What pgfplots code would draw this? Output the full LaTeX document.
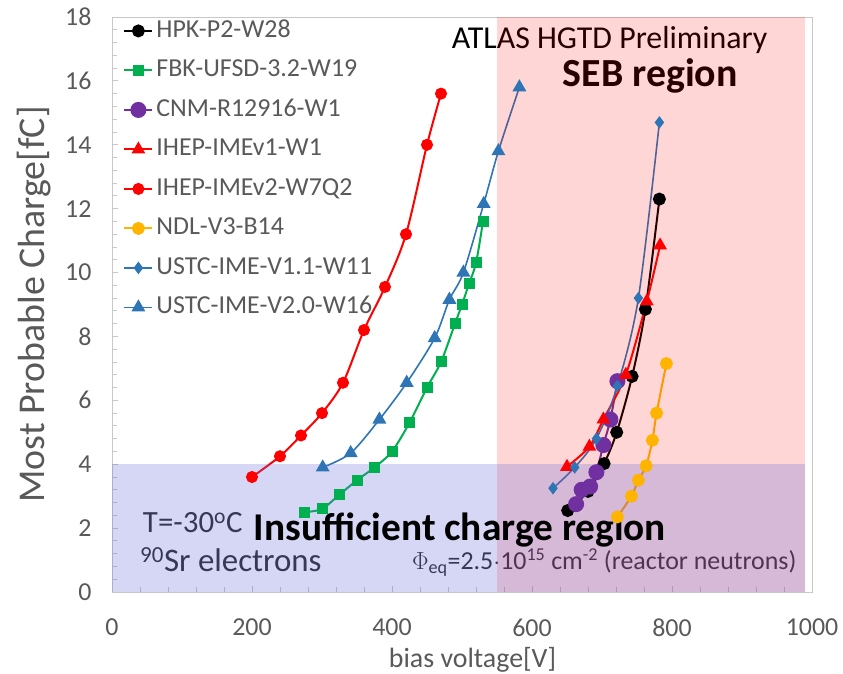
\documentclass[border=0pt]{standalone}
\usepackage{pgfplots}
\pgfplotsset{compat=1.18}
\usepackage{fontspec}
\setmainfont{Carlito}

\definecolor{txtgray}{RGB}{89,89,89}
\definecolor{axgray}{RGB}{200,200,200}
\definecolor{cGreen}{RGB}{0,176,80}
\definecolor{cPurple}{RGB}{112,48,160}
\definecolor{cRed}{RGB}{255,0,0}
\definecolor{cOrange}{RGB}{255,180,0}
\definecolor{cBlue}{RGB}{46,117,182}
\definecolor{cLav}{RGB}{103,103,218}

\begin{document}
\begin{tikzpicture}
\useasboundingbox (-112bp,-82bp) rectangle (731bp,592bp);
\begin{axis}[
  at={(0,0)}, anchor=south west,
  scale only axis, width=700bp, height=575bp,
  xmin=0, xmax=1000, ymin=0, ymax=18,
  xtick={0,200,...,1000}, ytick={0,2,...,18},
  minor x tick num=4, minor y tick num=4,
  xtick pos=bottom, ytick pos=left,
  tick align=inside,
  major tick length=6bp, minor tick length=5bp,
  every tick/.style={axgray, line width=0.8bp},
  axis line style={axgray, line width=0.8bp},
  /pgf/number format/assume math mode=true,
  /pgf/number format/1000 sep={},
  ticklabel style={font=\fontsize{26}{30}\selectfont, text=txtgray},
  xticklabel style={yshift=-23bp},
  yticklabel style={xshift=-17bp},
  every axis x label/.style={at={(axis description cs:0.515,-0.118)}, anchor=center},
  every axis y label/.style={at={(axis description cs:-0.112,0.5)}, rotate=90, anchor=center},
  xlabel={bias voltage[V]},
  ylabel={Most Probable Charge[fC]},
  xlabel style={font=\fontsize{28}{32}\selectfont, text=txtgray},
  ylabel style={font=\fontsize{38}{42}\selectfont, text=txtgray},
  legend cell align=left,
  legend image code/.code={
    \draw[mark repeat=2, mark phase=2] plot coordinates {(0bp,0bp) (14bp,0bp) (28bp,0bp)};},
  legend style={draw=none, fill=none, at={(axis cs:16,17.93)}, anchor=north west,
    font=\fontsize{26}{29}\selectfont, text=txtgray, row sep=16.5bp, column sep=3bp,
    inner sep=0pt, nodes={inner sep=0pt, text height=18bp, text depth=5bp}},
  every axis plot/.append style={line width=2bp},
]
% HPK
\addplot[black, smooth, mark=*, mark size=5.5bp] coordinates {
 (651,2.55) (680,3.15) (703,4.02) (721,5.0) (743,6.75) (762,8.85) (782,12.3)};
\addlegendentry{HPK-P2-W28}
% FBK
\addplot[cGreen, smooth, mark=square*, mark size=4.5bp] coordinates {
 (275,2.5) (300,2.6) (325,3.05) (350,3.5) (375,3.9) (400,4.4) (425,5.3) (450,6.4)
 (470,7.2) (490,8.4) (500,9.0) (510,9.65) (520,10.3) (530,11.6)};
\addlegendentry{FBK-UFSD-3.2-W19}
% CNM
\addplot[cPurple, smooth, mark=*, mark size=7bp] coordinates {
 (663,2.75) (671,3.2) (683,3.3) (692,3.75) (702,4.6) (712,5.4) (722,6.6)};
\addlegendentry{CNM-R12916-W1}
% IHEP v1
\addplot[cRed, smooth, mark=triangle*, mark size=6bp] coordinates {
 (650,3.92) (682,4.55) (702,5.4) (734,6.8) (764,9.1) (783,10.85)};
\addlegendentry{IHEP-IMEv1-W1}
% IHEP v2
\addplot[cRed, smooth, mark=*, mark size=5bp] coordinates {
 (200,3.6) (240,4.25) (270,4.9) (300,5.6) (330,6.55) (360,8.2) (390,9.55)
 (420,11.2) (450,14.0) (470,15.6)};
\addlegendentry{IHEP-IMEv2-W7Q2}
% NDL
\addplot[cOrange, smooth, mark=*, mark size=5.5bp] coordinates {
 (722,2.35) (742,3.0) (752,3.5) (763,3.95) (772,4.75) (778,5.6) (792,7.15)};
\addlegendentry{NDL-V3-B14}
% USTC V1.1
\addplot[cBlue, smooth, line width=1.6bp, mark=diamond*, mark size=5bp] coordinates {
 (630,3.25) (661,3.9) (692,4.8) (722,6.45) (752,9.2) (782,14.7)};
\addlegendentry{USTC-IME-V1.1-W11}
% USTC V2.0
\addplot[cBlue, smooth, line width=1.6bp, mark=triangle*, mark size=6.5bp] coordinates {
 (301,3.9) (341,4.35) (382,5.4) (421,6.55) (461,7.95) (482,9.15) (502,10.0)
 (531,12.15) (552,13.8) (582,15.8)};
\addlegendentry{USTC-IME-V2.0-W16}

% annotations
\node[anchor=center, font=\fontsize{32}{36}\selectfont] at (axis cs:711,17.28) {ATLAS HGTD Preliminary};
\node[anchor=center, font=\bfseries\fontsize{40}{44}\selectfont] at (axis cs:769,16.15) {SEB region};
\node[anchor=west, inner sep=0pt, font=\fontsize{31}{35}\selectfont, text=black!85] at (axis cs:44,2.16) {T=-30\textsuperscript{o}C};
\node[anchor=west, inner sep=0pt, font=\fontsize{33}{37}\selectfont, text=black!85] at (axis cs:40,1.0) {\textsuperscript{90}Sr electrons};
\node[anchor=east, inner sep=0pt, font=\fontsize{26}{30}\selectfont, text=black!85] at (axis cs:978,0.92) {$\Phi_{\mathrm{eq}}$=2.5$\cdot$10\textsuperscript{15} cm\textsuperscript{-2} (reactor neutrons)};

% shaded regions
\fill[cRed, opacity=0.16] (axis cs:550,0) rectangle (axis cs:990,18);
\fill[cLav, opacity=0.27] (axis cs:0,0) rectangle (axis cs:990,4);

\node[anchor=center, font=\bfseries\fontsize{39.5}{43}\selectfont] at (axis cs:497,1.94) {Insufficient charge region};
\end{axis}
\end{tikzpicture}
\end{document}
